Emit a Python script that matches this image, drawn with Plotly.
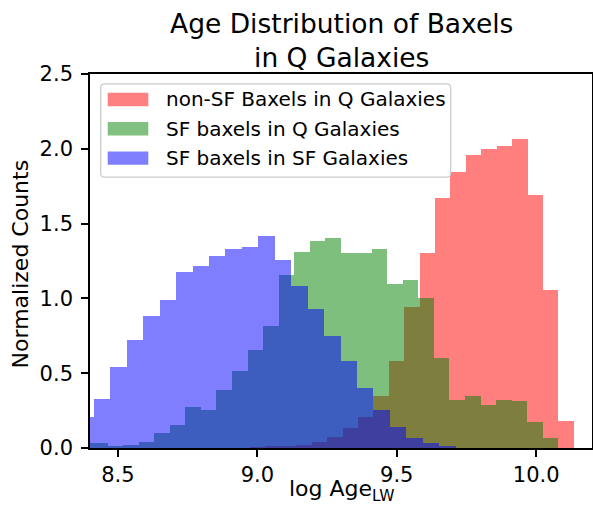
import plotly.graph_objects as go

# ---------------- data ----------------
# non-SF baxels in Q galaxies (red)
red_start = 8.9736
red_width = 0.0553
red_heights = [0.006, 0.009, 0.013, 0.018, 0.040, 0.074, 0.135, 0.204, 0.346,
               0.580, 0.941, 1.303, 1.671, 1.845, 1.959, 1.999, 2.019, 2.066,
               1.691, 1.055, 0.178]

# SF baxels in Q galaxies (green)
green_start = 8.3523
green_width = 0.05569
green_heights = [0.031, 0.031, 0.011, 0.018, 0.038, 0.098, 0.152, 0.272, 0.252,
                 0.386, 0.513, 0.654, 0.815, 1.156, 1.308, 1.383, 1.403, 1.303,
                 1.303, 1.330, 1.094, 1.121, 1.002, 0.600, 0.319, 0.346, 0.286,
                 0.319, 0.312, 0.172, 0.065]

# SF baxels in SF galaxies (blue)
blue_start = 8.3554
blue_width = 0.05893
blue_heights = [0.207, 0.326, 0.540, 0.721, 0.881, 0.989, 1.176, 1.216, 1.283,
                1.330, 1.343, 1.417, 1.256, 1.081, 0.928, 0.746, 0.580, 0.400,
                0.257, 0.143, 0.069, 0.036, 0.016]

series_names = ["non-SF Baxels in Q Galaxies", "SF baxels in Q Galaxies",
                "SF baxels in SF Galaxies"]
series_colors = ["#ff0000", "#008000", "#0000ff"]
legend_colors = ["#ff8080", "#80c080", "#8080ff"]

x_ticks = [8.5, 9.0, 9.5, 10.0]
y_ticks = [0.0, 0.5, 1.0, 1.5, 2.0, 2.5]

FONT = "DejaVu Sans"


def centers(start, width, n):
    return [start + width * (i + 0.5) for i in range(n)]


fig = go.Figure()
for (start, width, heights), name, col in zip(
        [(red_start, red_width, red_heights),
         (green_start, green_width, green_heights),
         (blue_start, blue_width, blue_heights)],
        series_names, series_colors):
    fig.add_trace(go.Bar(
        x=centers(start, width, len(heights)), y=heights, width=width,
        name=name, marker=dict(color=col, line=dict(width=0)),
        opacity=0.5, showlegend=False))

fig.update_layout(
    width=593, height=515,
    margin=dict(l=90, r=1, t=74, b=67, autoexpand=False),
    barmode="overlay", bargap=0,
    plot_bgcolor="white", paper_bgcolor="white",
    font=dict(family=FONT, color="black", size=20),
)

common = dict(showgrid=False, zeroline=False, automargin=False,
              showline=True, mirror=True, linecolor="black", linewidth=1.6,
              ticks="outside", ticklen=7, tickwidth=1.6, tickcolor="black",
              tickfont=dict(size=21, family=FONT, color="black"))
fig.update_xaxes(range=[8.4, 10.2], tickvals=x_ticks,
                 ticktext=[f"{v:.1f}" for v in x_ticks], **common)
fig.update_yaxes(range=[0, 2.5], tickvals=y_ticks,
                 ticktext=[f"{v:.1f}" for v in y_ticks],
                 ticklabelstandoff=4, **common)

PW, PH = 502.0, 374.2  # plot area in px
def px(x):
    return (x - 90) / PW
def py(y):
    return (447.7 - y) / PH

# title and axis titles
fig.add_annotation(text="Age Distribution of Baxels<br>in Q Galaxies",
                   xref="paper", yref="paper", x=px(341), y=py(40),
                   xanchor="center", yanchor="middle", showarrow=False,
                   font=dict(size=26.5, family=FONT, color="black"))
fig.add_annotation(text="log Age<sub>LW</sub>",
                   xref="paper", yref="paper", x=px(341), y=py(490),
                   xanchor="center", yanchor="middle", showarrow=False,
                   font=dict(size=22, family=FONT, color="black"))
fig.add_annotation(text="Normalized Counts", textangle=-90,
                   xref="paper", yref="paper", x=px(20), y=py(264),
                   xanchor="center", yanchor="middle", showarrow=False,
                   font=dict(size=22, family=FONT, color="black"))

# ---------------- custom matplotlib-like legend ----------------
bx0, bx1, by0, by1 = 100.7, 450.7, 83.3, 176.7
r = 4
path = (f"M {px(bx0 + r)},{py(by0)} L {px(bx1 - r)},{py(by0)} "
        f"Q {px(bx1)},{py(by0)} {px(bx1)},{py(by0 + r)} "
        f"L {px(bx1)},{py(by1 - r)} Q {px(bx1)},{py(by1)} {px(bx1 - r)},{py(by1)} "
        f"L {px(bx0 + r)},{py(by1)} Q {px(bx0)},{py(by1)} {px(bx0)},{py(by1 - r)} "
        f"L {px(bx0)},{py(by0 + r)} Q {px(bx0)},{py(by0)} {px(bx0 + r)},{py(by0)} Z")
fig.add_shape(type="path", path=path, xref="paper", yref="paper",
              line=dict(color="#cccccc", width=1.3), fillcolor="white",
              layer="above")

row_y = [99.0, 128.3, 157.7]
for name, col, yc in zip(series_names, legend_colors, row_y):
    fig.add_shape(type="rect", xref="paper", yref="paper",
                  x0=px(107.7), x1=px(148.3), y0=py(yc + 6.7), y1=py(yc - 6.7),
                  line=dict(width=0), fillcolor=col, layer="above")
    fig.add_annotation(text=name, xref="paper", yref="paper",
                       x=px(164.3), y=py(yc), xanchor="left", yanchor="middle",
                       showarrow=False, font=dict(size=20, family=FONT))

fig.write_html("out.html",
               config={"displayModeBar": False},
               post_script="document.body.style.margin='0';"
                           "document.body.style.overflow='hidden';")
